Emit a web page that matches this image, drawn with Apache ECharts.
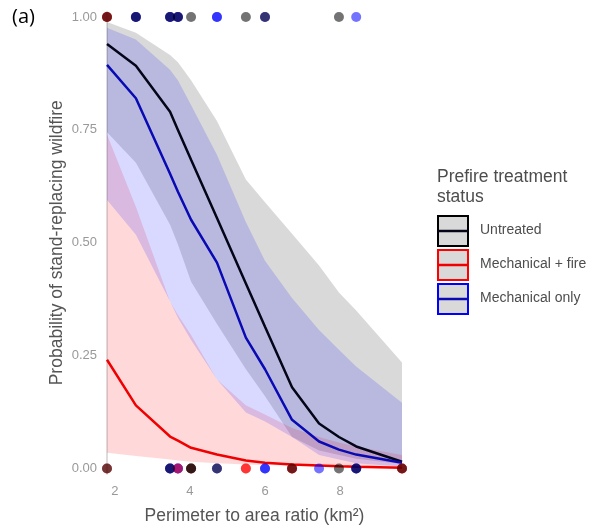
<!DOCTYPE html>
<html>
<head>
<meta charset="utf-8">
<script src="https://cdn.jsdelivr.net/npm/echarts@6/dist/echarts.min.js"></script>
<style>
  html, body { margin: 0; padding: 0; background: #fff; }
  #chart { width: 598px; height: 530px; }
</style>
</head>
<body>
<div id="chart"></div>
<script>
// perimeter to area ratio at the fitted points
const ratio = [1.79, 2.56, 3.47, 3.68, 4.03, 4.72, 5.49, 6.0, 6.72, 7.44, 7.97, 8.43, 9.65];

// fitted probabilities
const untreatedFit = [0.94, 0.892, 0.79, 0.75, 0.684, 0.555, 0.41, 0.314, 0.18, 0.10, 0.07, 0.049, 0.015];
const mechFireFit  = [0.241, 0.14, 0.071, 0.062, 0.046, 0.031, 0.018, 0.013, 0.009, 0.007, 0.005, 0.004, 0.002];
const mechOnlyFit  = [0.894, 0.82, 0.653, 0.613, 0.551, 0.456, 0.29, 0.22, 0.108, 0.06, 0.042, 0.031, 0.013];

// confidence bands
const untreatedLo = [0.745, 0.677, 0.54, 0.496, 0.414, 0.32, 0.22, 0.16, 0.07, 0.04, 0.03, 0.022, 0.01];
const untreatedHi = [0.989, 0.965, 0.916, 0.90, 0.86, 0.77, 0.64, 0.59, 0.52, 0.45, 0.39, 0.35, 0.235];
const mechFireLo  = [0.035, 0.028, 0.02, 0.018, 0.015, 0.012, 0.009, 0.008, 0.006, 0.005, 0.004, 0.004, 0.003];
const mechFireHi  = [0.74, 0.58, 0.37, 0.34, 0.296, 0.197, 0.14, 0.12, 0.09, 0.07, 0.058, 0.049, 0.03];
const mechOnlyLo  = [0.595, 0.518, 0.37, 0.334, 0.285, 0.197, 0.124, 0.104, 0.07, 0.03, 0.02, 0.012, 0.004];
const mechOnlyHi  = [0.976, 0.95, 0.883, 0.86, 0.805, 0.695, 0.546, 0.46, 0.378, 0.307, 0.263, 0.226, 0.146];

// observed fires (1 = stand-replacing, 0 = not)
const untreatedYes = [1.79, 2.56, 3.47, 3.68, 4.03, 5.49, 6.0, 7.97];
const mechFireYes  = [1.79, 1.79];
const mechOnlyYes  = [2.56, 2.56, 3.47, 3.47, 3.68, 3.68, 4.72, 4.72, 6.0, 8.43];
const untreatedNo  = [1.79, 3.47, 4.03, 4.03, 4.72, 6.72, 7.97, 8.43, 9.65];
const mechFireNo   = [1.79, 3.68, 4.03, 5.49, 5.49, 6.72, 6.72, 9.65, 9.65];
const mechOnlyNo   = [3.47, 3.47, 3.68, 3.68, 4.72, 6.0, 6.0, 7.44, 8.43, 8.43];

const groups = ['Untreated', 'Mechanical + fire', 'Mechanical only'];
const xTicks = [2, 4, 6, 8];
const yTicks = [0, 0.25, 0.5, 0.75, 1];

const colors = ['#000000', '#ff0000', '#0000ff'];
const lineColors = ['#05051a', '#f00000', '#0a0ab4'];

let myChart = echarts.init(document.getElementById('chart'));

function ribbon(lo, hi, rgb) {
    return {
        type: 'custom',
        clip: true,
        silent: true,
        z: 1,
        data: ratio.map((x, i) => [x, lo[i], hi[i]]),
        encode: { x: 0, y: [1, 2] },
        renderItem: function (params, api) {
            if (params.dataIndex !== 0) return;
            let up = [], dn = [];
            for (let i = 0; i < ratio.length; i++) {
                up.push(api.coord([ratio[i], hi[i]]));
                dn.push(api.coord([ratio[i], lo[i]]));
            }
            return {
                type: 'polygon',
                shape: { points: up.concat(dn.reverse()) },
                style: { fill: 'rgba(' + rgb + ',0.15)' }
            };
        }
    };
}

function fitLine(fit, color) {
    return {
        type: 'line',
        data: ratio.map((x, i) => [x, fit[i]]),
        symbol: 'none',
        smooth: false,
        z: 3,
        lineStyle: { color: color, width: 2.5 }
    };
}

function points(xs, y, color) {
    return {
        type: 'scatter',
        data: xs.map(x => [x, y]),
        symbolSize: 10,
        z: 4,
        itemStyle: { color: color, opacity: 0.55 }
    };
}

// legend drawn as boxes like the ggplot keys
let legendItems = [{
    type: 'text', left: 437, top: 167,
    style: { text: 'Prefire treatment\nstatus', font: '17.5px "Liberation Sans", Arial, sans-serif', fill: '#4d4d4d', lineHeight: 20 }
}];
groups.forEach((g, i) => {
    let y0 = 216 + i * 34;
    legendItems.push({
        type: 'rect', shape: { x: 438, y: y0, width: 30, height: 30 },
        style: { fill: '#d9d9d9', stroke: colors[i], lineWidth: 2 }
    });
    legendItems.push({
        type: 'line', shape: { x1: 438, y1: y0 + 15, x2: 468, y2: y0 + 15 },
        style: { stroke: lineColors[i], lineWidth: 2.5 }
    });
    legendItems.push({
        type: 'text', left: 480, top: y0 + 7,
        style: { text: g, font: '14px "Liberation Sans", Arial, sans-serif', fill: '#4d4d4d' }
    });
});
legendItems.push({
    type: 'text', left: 12, top: 7,
    style: { text: '(a)', font: '20px "Open Sans", sans-serif', fill: '#000' }
});

let option = {
    animation: false,
    grid: { left: 107, right: 196, top: 11.6, bottom: 55.6 },
    xAxis: {
        type: 'value',
        min: 1.79,
        max: 9.65,
        name: 'Perimeter to area ratio (km²)',
        nameLocation: 'middle',
        nameGap: 33,
        nameTextStyle: { color: '#555', fontSize: 17.5, fontFamily: 'Liberation Sans' },
        axisLine: { show: false },
        axisTick: { show: false },
        splitLine: { show: false },
        axisLabel: {
            customValues: xTicks,
            color: '#999',
            fontSize: 13,
            fontFamily: 'Liberation Sans',
            margin: 11
        }
    },
    yAxis: {
        type: 'value',
        min: -0.012,
        max: 1.012,
        name: 'Probability of stand-replacing wildfire',
        nameLocation: 'middle',
        nameGap: 41,
        nameTextStyle: { color: '#555', fontSize: 17.5, fontFamily: 'Liberation Sans' },
        axisLine: { show: true, lineStyle: { color: '#d0d0d0', width: 1.5 } },
        axisTick: { show: false },
        splitLine: { show: false },
        axisLabel: {
            customValues: yTicks,
            formatter: v => v.toFixed(2),
            color: '#999',
            fontSize: 13,
            fontFamily: 'Liberation Sans',
            margin: 10
        }
    },
    graphic: legendItems,
    series: [
        ribbon(untreatedLo, untreatedHi, '0,0,0'),
        ribbon(mechFireLo, mechFireHi, '255,0,0'),
        ribbon(mechOnlyLo, mechOnlyHi, '0,0,255'),
        fitLine(untreatedFit, lineColors[0]),
        fitLine(mechFireFit, lineColors[1]),
        fitLine(mechOnlyFit, lineColors[2]),
        points(mechOnlyYes, 1, colors[2]),
        points(mechFireYes, 1, colors[1]),
        points(untreatedYes, 1, colors[0]),
        points(mechOnlyNo, 0, colors[2]),
        points(mechFireNo, 0, colors[1]),
        points(untreatedNo, 0, colors[0])
    ]
};

myChart.setOption(option);
</script>
</body>
</html>
